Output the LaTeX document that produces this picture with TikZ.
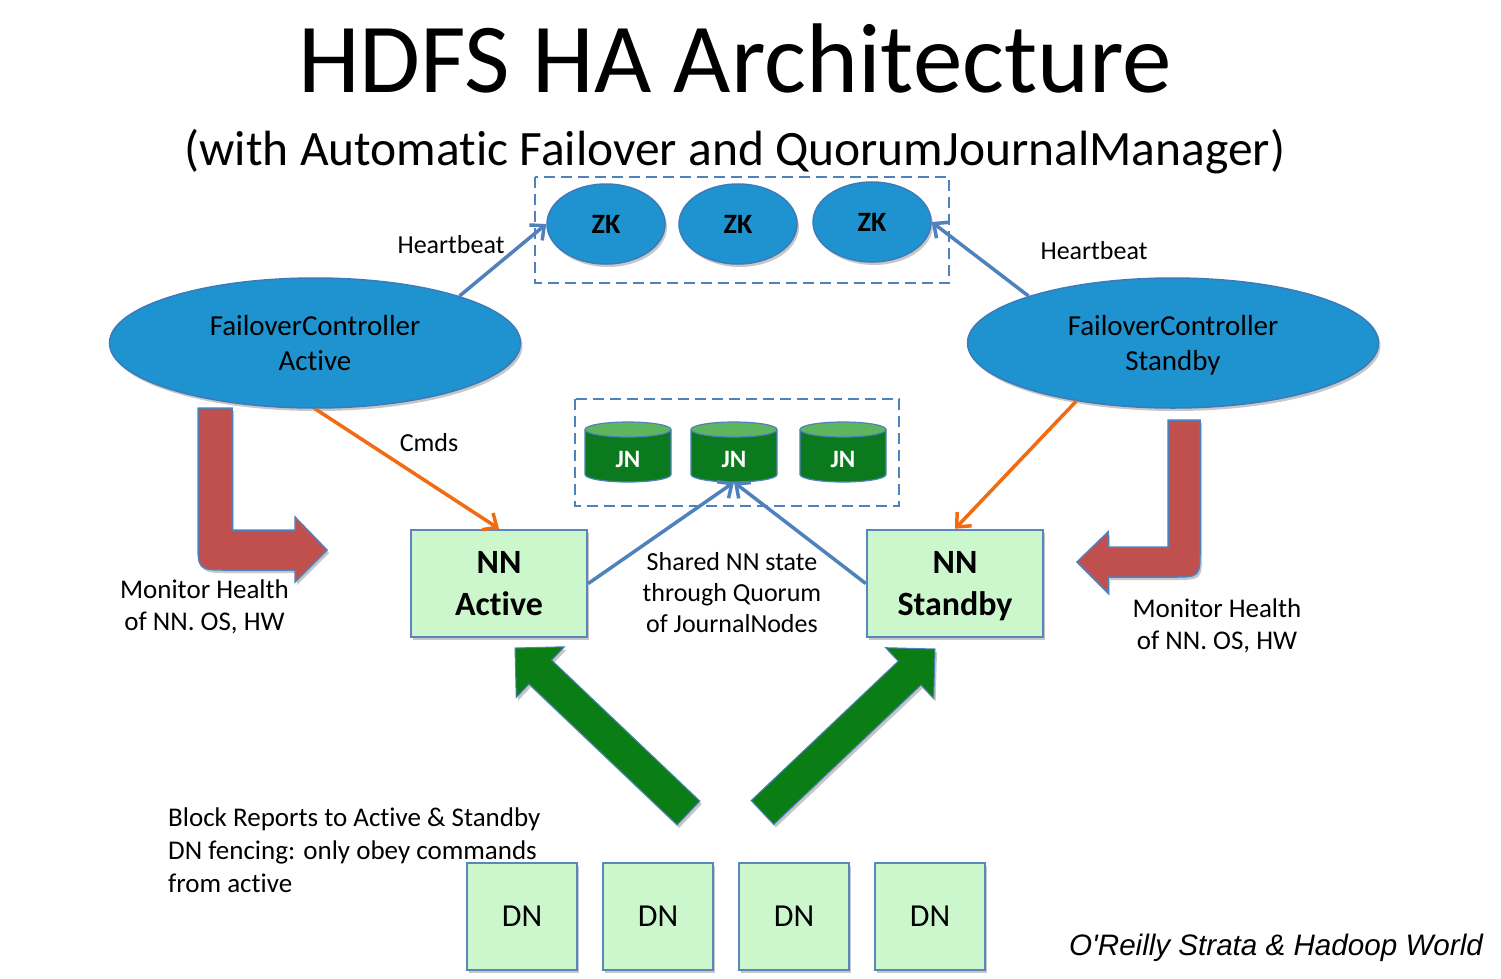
\documentclass[tikz,border=0pt]{standalone}
\usepackage{fontspec}
\setmainfont{Carlito}[Ligatures={TeX,NoCommon}]
\newfontfamily\footfont{Liberation Sans}
\usetikzlibrary{arrows.meta,calc,shadows,shapes.geometric}
\definecolor{zkblue}{HTML}{1E93CF}
\definecolor{zkedge}{HTML}{3B7BB9}
\definecolor{lineblue}{HTML}{4F81BD}
\definecolor{orangeln}{HTML}{F26B11}
\definecolor{nnfill}{HTML}{CCF7CC}
\definecolor{nnedge}{HTML}{5A86BF}
\definecolor{jndark}{HTML}{0B7A1E}
\definecolor{jnlight}{HTML}{5DB65F}
\definecolor{garrow}{HTML}{0A7D14}
\definecolor{redarrow}{HTML}{C0504D}
\newcommand\jncyl[2]{%
  \fill[jndark] (#2-43,429.5) -- (#2-43,474.5) arc[start angle=180,end angle=0,x radius=43,y radius=7.5] -- (#2+43,429.5) arc[start angle=0,end angle=180,x radius=43,y radius=7.5] -- cycle;
  \draw[lineblue,line width=1.2pt] (#2-43,429.5) -- (#2-43,474.5) arc[start angle=180,end angle=0,x radius=43,y radius=7.5] -- (#2+43,429.5);
  \filldraw[fill=jnlight,draw=lineblue,line width=1.2pt] (#2,429.5) ellipse [x radius=43,y radius=7.5];
  \node[jntext] (#1) at (#2,459) {JN};}
\newcommand\fatarrow[2]{%
  \path ($(#2)!35pt!(#1)$) coordinate (fh);
  \draw[greenarrow] ($(#1)!16.5pt!90:(#2)$) -- ($(fh)!16.5pt!-90:(#1)$) -- ($(fh)!35pt!-90:(#1)$) -- (#2) -- ($(fh)!35pt!90:(#1)$) -- ($(fh)!16.5pt!90:(#1)$) -- ($(#1)!16.5pt!-90:(#2)$) -- cycle;}
\begin{document}
\begin{tikzpicture}[x=1pt,y=-1pt,
  shadowed/.style={drop shadow={shadow xshift=2pt,shadow yshift=-3pt,opacity=0.22,fill=black}},
  zk/.style={ellipse,fill=zkblue,draw=zkedge,line width=1.5pt,minimum width=118pt,minimum height=80pt,inner sep=0pt,font=\fontsize{28}{32}\selectfont\bfseries,shadowed},
  fc/.style={ellipse,fill=zkblue,draw=zkedge,line width=1.5pt,minimum width=411pt,minimum height=130pt,inner sep=0pt,align=center,font=\fontsize{29}{35}\selectfont,shadowed},
  nnbox/.style={rectangle,fill=nnfill,draw=nnedge,line width=2.5pt,minimum width=176pt,minimum height=107pt,inner sep=0pt,align=center,font=\fontsize{34}{42}\selectfont\bfseries,shadowed},
  dnbox/.style={rectangle,fill=nnfill,draw=nnedge,line width=2.5pt,minimum width=110pt,minimum height=107pt,inner sep=0pt,font=\fontsize{32}{36}\selectfont,shadowed},
  jntext/.style={rectangle,minimum width=86pt,minimum height=46pt,inner sep=0pt,text=white,font=\fontsize{25}{28}\selectfont\bfseries},
  group/.style={draw=lineblue,line width=2pt,dash pattern=on 11pt off 6pt},
  lbl/.style={font=\fontsize{26}{31}\selectfont,align=center,inner sep=0pt},
  hb/.style={draw=lineblue,line width=3.5pt,-{Straight Barb[length=11pt,width=20pt,line width=3.5pt]}},
  cmd/.style={draw=orangeln,line width=3.5pt,-{Straight Barb[length=11pt,width=20pt,line width=3.5pt]}},
  greenarrow/.style={fill=garrow,draw=lineblue,line width=1pt,shadowed},
  redarrow/.style={fill=redarrow,draw=lineblue,line width=1.5pt,shadowed}]
\useasboundingbox (0,0) rectangle (1501,978);
\fill[white] (0,0) rectangle (1501,978);
% titles
\node[font=\fontsize{99}{112}\selectfont,anchor=base,inner sep=0pt] (title) at (735,92) {HDFS HA Architecture};
\node[font=\fontsize{49.5}{60}\selectfont,anchor=base,inner sep=0pt] (subtitle) at (735,165) {(with Automat\kern0pt ic Failover and QuorumJournalManager)};
% ZooKeeper group
\draw[group] (535,177) rectangle (949,283);
\node[zk] (zk1) at (606,224) {ZK};
\node[zk] (zk2) at (738,224) {ZK};
\node[zk] (zk3) at (872,222) {ZK};
% Failover controllers
\node[fc] (fca) at (315,343) {FailoverController\\Active};
\node[fc] (fcs) at (1173,343) {FailoverController\\\smash{Standby}};
% JournalNodes
\draw[group] (575,399) rectangle (899,506);
\jncyl{jn1}{628}
\jncyl{jn2}{734}
\jncyl{jn3}{843}
% NameNodes
\node[nnbox] (nna) at (499,583.5) {NN\\Active};
\node[nnbox] (nns) at (955,583.5) {NN\\\smash{Standby}};
% DataNodes
\node[dnbox] (dn1) at (522,916.5) {DN};
\node[dnbox] (dn2) at (658,916.5) {DN};
\node[dnbox] (dn3) at (794,916.5) {DN};
\node[dnbox] (dn4) at (930,916.5) {DN};
% connectors
\draw[hb] (fca.18) -- (zk1.west);
\draw[hb] (fcs.162) -- (zk3.east);
\draw[cmd] (fca.south) -- (nna.north);
\draw[cmd] (fcs.211) -- (nns.north);
\draw[hb] (nna.east) -- (jn2.south);
\draw[hb] (nns.west) -- (jn2.south);
% labels
\node[lbl] (hbl) at (451,245) {Heartbeat};
\node[lbl] (hbr) at (1094,251) {Heartbeat};
\node[lbl] (cmds) at (429,443) {Cmds};
\node[lbl,font=\fontsize{26}{31}\selectfont] (shared) at (732,593) {Shared NN state\\through Quorum\\of JournalNodes};
\node[lbl,font=\fontsize{27}{32}\selectfont] (monl) at (204.5,607) {Monitor Health\\of NN. OS, HW};
\node[lbl,font=\fontsize{27}{32}\selectfont] (monr) at (1217,626) {Monitor Health\\of NN. OS, HW};
\node[lbl,font=\fontsize{27}{33}\selectfont,align=left,anchor=west] (block) at (168,850) {Block Reports to Active \& Standby\\DN fencing: only obey commands\\from active};
% red monitor arrows
\draw[redarrow] (198,408) -- (232,408) -- (232,530) -- (295,530) -- (295,517) -- (327,550) -- (295,582) -- (295,570) -- (228,570) .. controls (198,570) .. (198,540) -- cycle;
\draw[redarrow] (1168,420) -- (1200,420) -- (1200,549) .. controls (1200,577) .. (1172,577) -- (1108,577) -- (1108,593) -- (1077,562) -- (1108,532) -- (1108,547) -- (1168,547) -- cycle;
% green block report arrows
\coordinate (gltail) at (688.5,813);
\coordinate (gltip) at (515,648);
\coordinate (grtail) at (762.5,812.5);
\coordinate (grtip) at (935,649);
\fatarrow{gltail}{gltip}
\fatarrow{grtail}{grtip}
% credit
\node[font=\footfont\itshape\fontsize{29.6}{34}\selectfont,anchor=base west,inner sep=0pt] (credit) at (1069,955) {O\textquotesingle Reilly Strata \& Hadoop World};
\end{tikzpicture}
\end{document}
